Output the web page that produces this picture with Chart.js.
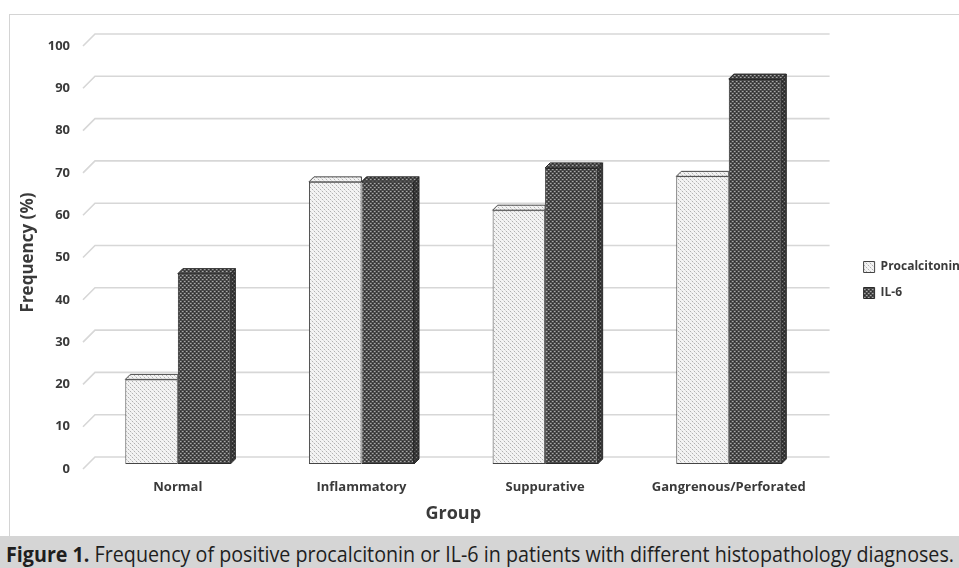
<!DOCTYPE html>
<html>
<head>
<meta charset="utf-8">
<script src="https://cdn.jsdelivr.net/npm/chart.js@4.4.1/dist/chart.umd.min.js"></script>
<style>
  html, body { margin: 0; padding: 0; background: #fff; overflow: hidden; width: 959px; height: 568px; }
  #frame { position: absolute; left: 9px; top: 14px; width: 995px; height: 521px; border: 1px solid #d4d4d4; }
  #caption { position: absolute; left: 0; top: 536px; width: 959px; height: 32px; background: #d5d5d5; overflow: hidden; }
  #cap { position: absolute; left: 6px; top: 4px; white-space: nowrap; font-family: 'Open Sans', sans-serif;
         font-size: 21px; color: #1e1e1e; transform-origin: 0 0; }
</style>
</head>
<body>
<div id="frame"><canvas id="c"></canvas></div>
<div id="caption"><span id="cap"><b>Figure 1.</b> Frequency of positive procalcitonin or IL-6 in patients with different histopathology diagnoses.</span></div>
<script>
// ---- data ----
const categories = ['Normal', 'Inflammatory', 'Suppurative', 'Gangrenous/Perforated'];
const procalcitonin = [20, 66.7, 60, 68];
const il6 = [45, 66.7, 70, 91];
const yTicks = [0, 10, 20, 30, 40, 50, 60, 70, 80, 90, 100];
const seriesNames = ['Procalcitonin', 'IL-6'];

const FONT = "'Open Sans', sans-serif";
const TEXT = '#3a3a3a';

// caption fitted to the band width
(function () {
  const cap = document.getElementById('cap');
  const w = cap.getBoundingClientRect().width;
  cap.style.transform = 'scaleX(' + (948 / w) + ')';
})();

// fill patterns for the two series
function makePattern(size, bg, dots) {
  const c = document.createElement('canvas');
  c.width = size; c.height = size;
  const g = c.getContext('2d');
  g.fillStyle = bg; g.fillRect(0, 0, size, size);
  dots.forEach(([x, y, col]) => { g.fillStyle = col; g.fillRect(x, y, 1, 1); });
  return g.createPattern(c, 'repeat');
}
const lightPat = makePattern(4, '#f3f3f3', [[0, 0, '#b0b0b0'], [2, 2, '#b0b0b0'], [1, 1, '#dcdcdc'], [3, 3, '#dcdcdc']]);
const darkPat = makePattern(4, '#4a4a4a', [[0, 0, '#a8a8a8'], [2, 2, '#a8a8a8'], [1, 0, '#7a7a7a'], [3, 2, '#7a7a7a'], [2, 0, '#2c2c2c'], [0, 2, '#2c2c2c']]);
const sidePat = makePattern(4, '#3a3a3a', [[0, 0, '#7c7c7c'], [2, 2, '#7c7c7c'], [2, 0, '#252525'], [0, 2, '#252525']]);

// wall gridlines (set back from the bars) and bar tops/sides
const DEPTH = 5;
const BACK = { dx: 9, dy: -7 };
const FRONT = { dx: -3, dy: 5 };

function poly(ctx, pts, fill, stroke) {
  ctx.beginPath();
  ctx.moveTo(pts[0][0], pts[0][1]);
  for (let i = 1; i < pts.length; i++) ctx.lineTo(pts[i][0], pts[i][1]);
  ctx.closePath();
  ctx.fillStyle = fill; ctx.fill();
  ctx.strokeStyle = stroke; ctx.lineWidth = 1; ctx.stroke();
}

const depthPlugin = {
  id: 'depth',
  beforeDatasetsDraw(chart) {
    const { ctx, chartArea: a, scales: { y } } = chart;
    ctx.save();
    ctx.strokeStyle = '#d7d7d7';
    ctx.lineWidth = 1.6;
    y.ticks.forEach(t => {
      const py = y.getPixelForValue(t.value);
      ctx.beginPath();
      ctx.moveTo(a.left + FRONT.dx, py + FRONT.dy);
      ctx.lineTo(a.left + BACK.dx, py + BACK.dy);
      ctx.lineTo(a.right + BACK.dx, py + BACK.dy);
      ctx.stroke();
    });
    ctx.restore();
  },
  afterDatasetsDraw(chart) {
    const { ctx } = chart;
    const mA = chart.getDatasetMeta(0), mB = chart.getDatasetMeta(1);
    ctx.save();
    for (let i = 0; i < mA.data.length; i++) {
      const a = mA.data[i].getProps(['x', 'y', 'base', 'width'], true);
      const b = mB.data[i].getProps(['x', 'y', 'base', 'width'], true);
      const aL = a.x - a.width / 2, aR = a.x + a.width / 2;
      const bL = b.x - b.width / 2, bR = b.x + b.width / 2;
      const d = DEPTH;
      // top of the first bar, hidden past the taller neighbour
      if (b.y <= a.y + 0.5) {
        poly(ctx, [[aL, a.y], [aL + d, a.y - d], [aR, a.y - d], [aR, a.y]], lightPat, '#4a4a4a');
      } else {
        poly(ctx, [[aL, a.y], [aL + d, a.y - d], [aR + d, a.y - d], [aR, a.y]], lightPat, '#4a4a4a');
      }
      // top and right side of the second bar
      poly(ctx, [[bL, b.y], [bL + d, b.y - d], [bR + d, b.y - d], [bR, b.y]], darkPat, '#2a2a2a');
      poly(ctx, [[bR, b.y], [bR + d, b.y - d], [bR + d, b.base - d], [bR, b.base]], sidePat, '#2a2a2a');
    }
    ctx.restore();
  }
};

// legend sizing: the legend box is as wide as its longest entry plus its padding
const LEGEND_SIZE = 12, LEGEND_BOX = 11, LEGEND_PAD = 14;
const CANVAS_W = 995, LEGEND_LEFT = 839;
const mctx = document.createElement('canvas').getContext('2d');
mctx.font = 'bold ' + LEGEND_SIZE + 'px ' + FONT;
const longest = Math.max(...seriesNames.map(s => mctx.measureText(s).width));
const legendWidth = LEGEND_PAD + LEGEND_BOX + LEGEND_SIZE / 2 + longest + 11;
const padRight = Math.round(CANVAS_W - LEGEND_LEFT - legendWidth);

new Chart(document.getElementById('c'), {
  type: 'bar',
  data: {
    labels: categories,
    datasets: [
      { label: seriesNames[0], data: procalcitonin, backgroundColor: lightPat, borderColor: '#444', borderWidth: 1,
        borderSkipped: false, categoryPercentage: 0.572, barPercentage: 1 },
      { label: seriesNames[1], data: il6, backgroundColor: darkPat, borderColor: '#2a2a2a', borderWidth: 1,
        borderSkipped: false, categoryPercentage: 0.572, barPercentage: 1 }
    ]
  },
  options: {
    responsive: true,
    maintainAspectRatio: false,
    animation: false,
    layout: { padding: { top: 26, left: 0, right: padRight, bottom: 0 } },
    plugins: {
      tooltip: { enabled: false },
      legend: {
        position: 'right',
        align: 'start',
        title: { display: true, text: ' ', font: { size: 10 }, padding: { top: 194, bottom: 0 } },
        labels: { boxWidth: LEGEND_BOX, boxHeight: LEGEND_BOX, padding: LEGEND_PAD, color: TEXT,
                  font: { family: FONT, size: LEGEND_SIZE, weight: 'bold' } }
      }
    },
    scales: {
      x: {
        grid: { display: false, drawTicks: false },
        border: { display: false },
        ticks: { padding: 15, color: TEXT, font: { family: FONT, size: 13, weight: 'bold' } },
        title: { display: true, text: 'Group', color: TEXT, font: { family: FONT, size: 18, weight: 'bold' },
                 padding: { top: 4, bottom: 11 } },
        afterFit(s) { s.height = 72; }
      },
      y: {
        min: 0, max: 100,
        afterBuildTicks(s) { s.ticks = yTicks.map(v => ({ value: v })); },
        grid: { display: false, drawTicks: false },
        border: { display: false },
        ticks: { padding: 16, labelOffset: 5, color: TEXT, font: { family: FONT, size: 13, weight: 'bold' } },
        title: { display: true, text: 'Frequency (%)', color: TEXT, font: { family: FONT, size: 17, weight: 'bold' },
                 padding: { top: 8, bottom: 0 } },
        afterFit(s) { s.width = 76; }
      },
      gap: {
        type: 'linear', position: 'right', display: true,
        grid: { display: false, drawTicks: false },
        border: { display: false },
        ticks: { display: false },
        afterFit(s) { s.width = 29; }
      }
    }
  },
  plugins: [depthPlugin]
});
</script>
</body>
</html>
